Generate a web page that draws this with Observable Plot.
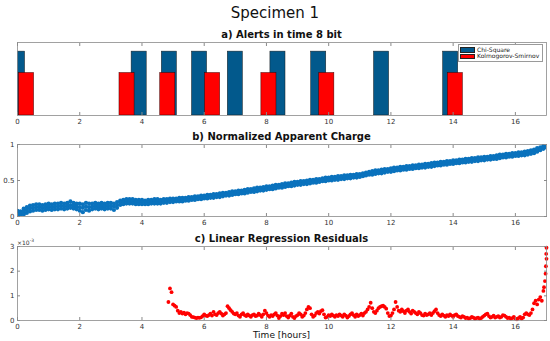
<!DOCTYPE html>
<html><head><meta charset="utf-8">
<script src="https://cdn.jsdelivr.net/npm/d3@7"></script>
<script src="https://cdn.jsdelivr.net/npm/@observablehq/plot@0.6"></script>
<style>
body{margin:0;background:#fff;font-family:"DejaVu Sans",sans-serif;}
#wrap{position:relative;width:550px;height:341px;overflow:hidden;background:#fff;}
.t{position:absolute;white-space:nowrap;color:#111;line-height:1;}
.ttl{font-weight:bold;font-size:10px;transform:translateX(-50%);}
svg{position:absolute;left:0;}
.leg{position:absolute;left:458px;top:44px;width:83px;height:16px;border:1px solid #9a9a9a;background:#fff;font-size:6px;color:#222;}
.row{position:absolute;left:1px;height:6px;}
.sw{position:absolute;left:0;top:0;width:15px;height:5.5px;border:0.5px solid #222;box-sizing:border-box;}
.lt{position:absolute;left:17px;top:-0.5px;white-space:nowrap;line-height:6px;}
</style></head><body><div id="wrap"></div>
<script>
// ---------- data ----------
const xTicks = [0, 2, 4, 6, 8, 10, 12, 14, 16];
// a) alert bars (centre time in hours)
const chiCenters = [0, 3.91, 4.88, 5.85, 7.0, 8.37, 9.68, 11.70, 13.92];
const ksCenters = [0.29, 3.52, 4.83, 6.27, 8.08, 9.94, 14.07];
const chiLevel = 1;
const ksLevel = 0.665;
const barWidth = 0.485;
// b) normalized apparent charge: upper edge, middle and lower edge of the point cloud, every 0.1 h from 0 to 17
const chargeHi = [
0.08,0.07,0.11,0.13,0.15,0.16,0.17,0.17,0.16,0.17,
0.18,0.17,0.18,0.18,0.19,0.18,0.19,0.21,0.19,0.18,
0.18,0.17,0.19,0.18,0.18,0.19,0.18,0.19,0.18,0.19,
0.19,0.18,0.20,0.22,0.23,0.24,0.24,0.24,0.23,0.23,
0.23,0.22,0.23,0.23,0.24,0.24,0.23,0.24,0.24,0.25,
0.25,0.25,0.26,0.26,0.26,0.27,0.27,0.28,0.28,0.29,
0.29,0.30,0.30,0.31,0.31,0.32,0.33,0.33,0.34,0.35,
0.35,0.36,0.36,0.37,0.38,0.38,0.39,0.40,0.40,0.41,
0.42,0.42,0.43,0.44,0.44,0.45,0.46,0.46,0.47,0.48,
0.48,0.49,0.49,0.50,0.51,0.51,0.52,0.52,0.53,0.54,
0.54,0.55,0.55,0.56,0.56,0.57,0.57,0.58,0.58,0.59,
0.59,0.60,0.61,0.62,0.63,0.64,0.64,0.65,0.66,0.66,
0.67,0.68,0.68,0.69,0.69,0.70,0.70,0.71,0.71,0.72,
0.72,0.73,0.73,0.74,0.75,0.75,0.76,0.76,0.77,0.77,
0.78,0.78,0.79,0.79,0.80,0.80,0.81,0.81,0.82,0.82,
0.83,0.83,0.84,0.84,0.85,0.86,0.86,0.87,0.87,0.88,
0.88,0.89,0.89,0.90,0.91,0.92,0.93,0.95,0.96,0.98,
0.99];
const chargeMid = [
0.05,0.04,0.07,0.09,0.11,0.12,0.13,0.13,0.12,0.13,
0.14,0.13,0.14,0.14,0.15,0.14,0.15,0.16,0.15,0.14,
0.13,0.12,0.14,0.13,0.14,0.15,0.14,0.15,0.14,0.15,
0.15,0.14,0.16,0.19,0.20,0.21,0.21,0.21,0.20,0.20,
0.20,0.20,0.20,0.21,0.21,0.21,0.21,0.22,0.22,0.23,
0.23,0.23,0.24,0.24,0.24,0.25,0.25,0.26,0.26,0.27,
0.27,0.28,0.28,0.29,0.29,0.30,0.31,0.31,0.32,0.33,
0.33,0.34,0.34,0.35,0.36,0.36,0.37,0.38,0.38,0.39,
0.40,0.40,0.41,0.42,0.42,0.43,0.44,0.44,0.45,0.46,
0.46,0.47,0.47,0.48,0.49,0.49,0.50,0.50,0.51,0.52,
0.52,0.53,0.53,0.54,0.54,0.55,0.55,0.56,0.56,0.57,
0.57,0.58,0.59,0.60,0.61,0.62,0.62,0.63,0.64,0.64,
0.65,0.66,0.66,0.67,0.67,0.68,0.68,0.69,0.69,0.70,
0.70,0.71,0.71,0.72,0.73,0.73,0.74,0.74,0.75,0.75,
0.76,0.76,0.77,0.77,0.78,0.78,0.79,0.79,0.80,0.80,
0.81,0.81,0.82,0.82,0.83,0.84,0.84,0.85,0.85,0.86,
0.86,0.87,0.87,0.88,0.89,0.90,0.91,0.93,0.94,0.96,
0.98];
const chargeLo = [
0.02,0.00,0.03,0.05,0.07,0.08,0.09,0.09,0.08,0.09,
0.10,0.09,0.10,0.10,0.11,0.10,0.11,0.12,0.11,0.10,
0.08,0.06,0.09,0.08,0.10,0.11,0.10,0.11,0.10,0.11,
0.11,0.09,0.12,0.16,0.17,0.18,0.18,0.18,0.17,0.17,
0.17,0.17,0.17,0.18,0.18,0.18,0.18,0.19,0.19,0.20,
0.20,0.21,0.21,0.21,0.22,0.22,0.23,0.23,0.24,0.24,
0.25,0.25,0.26,0.26,0.27,0.27,0.28,0.29,0.29,0.30,
0.31,0.31,0.32,0.32,0.33,0.34,0.34,0.35,0.36,0.36,
0.37,0.38,0.38,0.39,0.40,0.40,0.41,0.42,0.42,0.43,
0.44,0.44,0.45,0.45,0.46,0.47,0.47,0.48,0.49,0.49,
0.50,0.50,0.51,0.51,0.52,0.52,0.53,0.53,0.54,0.54,
0.55,0.56,0.57,0.58,0.58,0.59,0.60,0.60,0.61,0.62,
0.62,0.63,0.64,0.64,0.65,0.65,0.66,0.66,0.67,0.67,
0.68,0.68,0.69,0.69,0.70,0.71,0.71,0.72,0.72,0.73,
0.73,0.74,0.74,0.75,0.75,0.76,0.76,0.77,0.77,0.78,
0.78,0.79,0.79,0.80,0.80,0.81,0.82,0.82,0.83,0.83,
0.84,0.84,0.85,0.85,0.86,0.87,0.88,0.90,0.92,0.94,
0.96];
const chargeStep = 0.1;
// c) linear regression residuals (x 10^-3), every 0.05 h from 4.85 h
const residStart = 4.85, residStep = 0.05;
const residE3 = [
.75,1.30,1.15,.65,.60,.55,.40,.30,.35,.28,.32,.25,.30,.28,.22,.15,.14,.12,.10,.12,
.11,.13,.18,.25,.20,.18,.22,.28,.20,.35,.25,.22,.30,.35,.28,.20,.25,.30,.58,.50,
.42,.35,.28,.25,.30,.20,.15,.25,.30,.22,.18,.25,.20,.15,.22,.25,.18,.20,.28,.22,
.15,.25,.40,.30,.20,.15,.22,.18,.25,.30,.20,.10,.18,.28,.22,.30,.18,.12,.20,.28,
.15,.10,.18,.22,.30,.25,.15,.20,.30,.45,.55,.50,.25,.15,.20,.30,.35,.28,.38,.42,
.25,.12,.15,.22,.18,.25,.20,.15,.22,.18,.25,.20,.15,.25,.20,.12,.18,.25,.30,.22,
.15,.25,.18,.22,.28,.20,.30,.35,.45,.55,.72,.50,.35,.30,.40,.50,.55,.58,.60,.55,
.48,.30,.18,.20,.30,.45,.75,.55,.40,.35,.45,.38,.30,.40,.45,.35,.28,.40,.35,.30,
.25,.35,.30,.22,.20,.28,.22,.25,.30,.22,.30,.38,.45,.30,.22,.18,.25,.20,.15,.22,
.18,.25,.20,.15,.22,.25,.18,.15,.12,.18,.15,.10,.12,.08,.10,.15,.12,.08,.10,.12,
.08,.10,.15,.20,.25,.28,.18,.12,.15,.20,.12,.15,.18,.12,.15,.22,.20,.15,.10,.12,
.08,.10,.15,.08,.05,.10,.15,.08,.12,.25,.30,.25,.22,.30,.45,.70,.80,.65,.85,.95,
.80,1.20,1.60,2.50];
const residTailT = [16.92, 16.97, 16.98, 16.99, 17.0];
const residTailV = [1.35, 1.9, 2.2, 2.7, 2.95];
const bTicks = [0, 0.5, 1];
const cTicks = [0, 1, 2, 3];

// ---------- build ----------
const wrap = document.getElementById("wrap");
const W = 550, ML = 17, MR = 4;
const style = {fontFamily: "DejaVu Sans, sans-serif", fontSize: "7px", color: "#333", background: "transparent", overflow: "visible"};
const axisStroke = "#8a8a8a";

function boxAxes(yTicks, yFmt) {
  const marks = [
    Plot.frame({stroke: axisStroke, strokeWidth: 0.8}),
    Plot.axisX(xTicks, {anchor: "bottom", tickSize: -3, tickPadding: 7, stroke: axisStroke, fill: "#333", label: null}),
    Plot.axisX(xTicks, {anchor: "top", tickSize: -3, tickFormat: () => "", stroke: axisStroke, label: null})
  ];
  if (yTicks) {
    marks.push(Plot.axisY(yTicks, {anchor: "left", tickSize: -3, tickPadding: 6, tickFormat: yFmt, stroke: axisStroke, fill: "#333", label: null}));
    marks.push(Plot.axisY(yTicks, {anchor: "right", tickSize: -3, tickFormat: () => "", stroke: axisStroke, label: null}));
  }
  return marks;
}

function place(svg, top) { svg.style.top = top + "px"; wrap.appendChild(svg); }
function text(html, cls, left, top, extra) {
  const d = document.createElement("div");
  d.className = "t " + cls; d.innerHTML = html;
  d.style.left = left + "px"; d.style.top = top + "px";
  if (extra) Object.assign(d.style, extra);
  wrap.appendChild(d); return d;
}

// Titles
text("Specimen 1", "", 275, 6, {fontSize: "15px", transform: "translateX(-50%)", color: "#111"});
text("a) Alerts in time 8 bit", "ttl", 281.5, 30);
text("b) Normalized Apparent Charge", "ttl", 281.5, 131.5);
text("c) Linear Regression Residuals", "ttl", 281.5, 233.5);

// Panel a
const pa = Plot.plot({
  width: W, height: 99, marginLeft: ML, marginRight: MR, marginTop: 12, marginBottom: 14,
  style,
  x: {domain: [0, 17]},
  y: {domain: [0, 1 / 0.875], axis: null},
  marks: [
    Plot.rectY(chiCenters, {x1: d => d - barWidth / 2, x2: d => d + barWidth / 2, y1: 0, y2: chiLevel, fill: "#02598c", stroke: "#1b1b1b", strokeWidth: 0.5, clip: true}),
    Plot.rectY(ksCenters, {x1: d => d - barWidth / 2, x2: d => d + barWidth / 2, y1: 0, y2: ksLevel, fill: "#ff0000", stroke: "#3a0000", strokeWidth: 0.5, clip: true}),
    ...boxAxes(null)
  ]
});
place(pa, 30);

// Legend for panel a
const leg = document.createElement("div");
leg.className = "leg";
leg.innerHTML = `<div class="row" style="top:2px"><div class="sw" style="background:#02598c"></div><div class="lt">Chi-Square</div></div>
<div class="row" style="top:8.5px"><div class="sw" style="background:#ff0000"></div><div class="lt">Kolmogorov-Smirnov</div></div>`;
wrap.appendChild(leg);

// Panel b
const chargePts = [];
[chargeHi, chargeMid, chargeLo].forEach(arr => arr.forEach((v, i) => chargePts.push({t: i * chargeStep, v})));
const pb = Plot.plot({
  width: W, height: 98, marginLeft: ML, marginRight: MR, marginTop: 12, marginBottom: 14,
  style,
  x: {domain: [0, 17]},
  y: {domain: [0, 1]},
  marks: [
    Plot.dot(chargePts, {x: "t", y: "v", r: 2.1, fill: "#0a72bd", stroke: null, clip: true}),
    ...boxAxes(bTicks, d => String(d))
  ]
});
place(pb, 132);

// Panel c
const residPts = residE3.map((v, i) => ({t: residStart + i * residStep, v}));
residTailT.forEach((t, i) => residPts.push({t, v: residTailV[i]}));
const pc = Plot.plot({
  width: W, height: 96, marginLeft: ML, marginRight: MR, marginTop: 12, marginBottom: 10,
  style,
  x: {domain: [0, 17]},
  y: {domain: [0, 3]},
  marks: [
    Plot.dot(residPts, {x: "t", y: "v", r: 1.9, fill: "#ff0000", stroke: null}),
    ...boxAxes(cTicks, d => String(d))
  ]
});
place(pc, 234);
text("&times;10<sup style='font-size:4.5px;vertical-align:3px'>-3</sup>", "", 17, 239, {fontSize: "6px", color: "#333"});
text("Time [hours]", "", 281.5, 331, {fontSize: "9px", transform: "translateX(-50%)", color: "#111"});
</script></body></html>
